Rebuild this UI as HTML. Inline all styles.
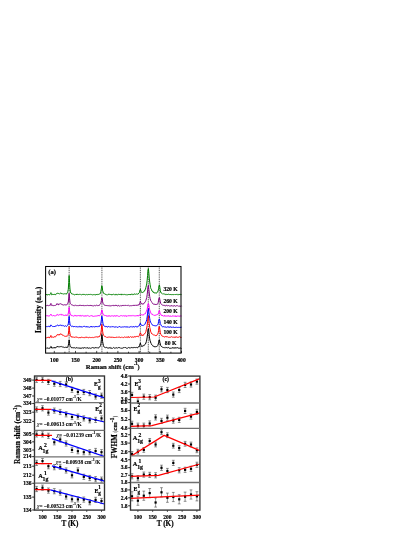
<!DOCTYPE html><html><head><meta charset="utf-8"><style>html,body{margin:0;padding:0;background:#fff}svg{display:block;will-change:transform}.ns{stroke:none}text{font-family:"Liberation Serif",serif;font-weight:bold;fill:#000;stroke:#000;stroke-width:0.18px}</style></head><body>
<svg width="415" height="537" viewBox="0 0 415 537">
<rect width="415" height="537" fill="#fff"/>
<line x1="69.14" y1="266.5" x2="69.14" y2="353.1" stroke="#000" stroke-width="0.7" stroke-dasharray="1,0.8"/>
<line x1="101.92" y1="266.5" x2="101.92" y2="353.1" stroke="#000" stroke-width="0.7" stroke-dasharray="1,0.8"/>
<line x1="140.37" y1="266.5" x2="140.37" y2="353.1" stroke="#000" stroke-width="0.7" stroke-dasharray="1,0.8"/>
<line x1="148.30" y1="266.5" x2="148.30" y2="353.1" stroke="#000" stroke-width="0.7" stroke-dasharray="1,0.8"/>
<line x1="159.28" y1="266.5" x2="159.28" y2="353.1" stroke="#000" stroke-width="0.7" stroke-dasharray="1,0.8"/>
<path d="M45.82,348.15 L46.24,348.30 L46.67,347.85 L47.09,348.37 L47.52,347.95 L47.94,348.11 L48.36,348.38 L48.79,347.98 L49.21,348.40 L49.64,348.03 L50.06,348.20 L50.48,347.40 L50.91,346.33 L51.33,346.72 L51.76,348.12 L52.18,348.17 L52.60,347.80 L53.03,347.49 L53.45,347.80 L53.88,347.93 L54.30,347.37 L54.72,348.16 L55.15,347.36 L55.57,347.76 L56.00,347.68 L56.42,347.35 L56.84,346.79 L57.27,346.12 L57.69,346.77 L58.12,346.66 L58.54,346.81 L58.96,347.07 L59.39,346.77 L59.81,346.97 L60.24,346.75 L60.66,346.53 L61.08,346.19 L61.51,346.63 L61.93,346.98 L62.36,346.93 L62.78,347.18 L63.20,347.40 L63.63,347.01 L64.05,347.15 L64.48,347.61 L64.90,347.35 L65.32,347.43 L65.75,347.13 L66.17,347.25 L66.60,347.60 L67.02,346.87 L67.44,347.43 L67.87,346.69 L68.29,345.30 L68.72,343.21 L69.14,339.95 L69.56,343.35 L69.99,345.44 L70.41,346.48 L70.84,347.15 L71.26,347.14 L71.68,347.80 L72.11,347.55 L72.53,347.71 L72.96,347.76 L73.38,347.91 L73.80,347.58 L74.23,347.51 L74.65,347.94 L75.08,347.78 L75.50,348.34 L75.92,347.77 L76.35,347.82 L76.77,347.51 L77.20,347.67 L77.62,348.16 L78.04,348.07 L78.47,347.82 L78.89,348.40 L79.32,348.01 L79.74,348.28 L80.16,348.32 L80.59,348.38 L81.01,347.74 L81.44,348.31 L81.86,348.21 L82.28,348.08 L82.71,347.65 L83.13,348.36 L83.56,348.03 L83.98,347.94 L84.40,347.64 L84.83,347.69 L85.25,347.65 L85.68,348.18 L86.10,348.05 L86.52,348.10 L86.95,347.63 L87.37,347.56 L87.80,348.29 L88.22,348.26 L88.64,348.21 L89.07,348.21 L89.49,347.98 L89.92,347.88 L90.34,348.17 L90.76,348.40 L91.19,348.02 L91.61,348.06 L92.04,347.88 L92.46,347.53 L92.88,347.76 L93.31,347.91 L93.73,347.81 L94.16,347.74 L94.58,348.29 L95.00,347.51 L95.43,347.60 L95.85,347.49 L96.28,347.54 L96.70,347.87 L97.12,347.82 L97.55,348.03 L97.97,347.47 L98.40,347.89 L98.82,347.74 L99.24,347.39 L99.67,347.10 L100.09,346.39 L100.52,345.65 L100.94,343.73 L101.36,339.59 L101.79,334.36 L102.21,335.96 L102.64,341.63 L103.06,343.90 L103.48,345.62 L103.91,346.82 L104.33,347.17 L104.76,347.36 L105.18,347.53 L105.60,347.87 L106.03,347.31 L106.45,347.25 L106.88,347.77 L107.30,347.79 L107.72,348.18 L108.15,348.19 L108.57,348.00 L109.00,348.08 L109.42,347.59 L109.84,348.20 L110.27,348.34 L110.69,347.51 L111.12,347.90 L111.54,348.25 L111.96,347.90 L112.39,348.36 L112.81,347.92 L113.24,347.52 L113.66,347.62 L114.08,347.77 L114.51,348.17 L114.93,348.07 L115.36,348.26 L115.78,347.71 L116.20,347.93 L116.63,347.71 L117.05,348.11 L117.48,348.21 L117.90,347.68 L118.32,347.52 L118.75,347.64 L119.17,347.68 L119.60,347.67 L120.02,347.74 L120.44,348.20 L120.87,347.94 L121.29,348.08 L121.72,348.37 L122.14,348.37 L122.56,348.14 L122.99,348.16 L123.41,347.77 L123.84,347.53 L124.26,347.98 L124.68,347.54 L125.11,347.49 L125.53,347.52 L125.96,348.04 L126.38,348.17 L126.80,348.16 L127.23,348.18 L127.65,348.17 L128.08,347.79 L128.50,347.53 L128.92,347.58 L129.35,347.90 L129.77,347.73 L130.20,347.59 L130.62,348.23 L131.04,347.70 L131.47,347.46 L131.89,347.57 L132.32,347.58 L132.74,347.81 L133.16,348.07 L133.59,347.50 L134.01,347.89 L134.44,347.45 L134.86,347.27 L135.28,347.76 L135.71,347.72 L136.13,347.19 L136.56,347.35 L136.98,347.79 L137.40,347.76 L137.83,347.64 L138.25,346.83 L138.68,346.71 L139.10,346.95 L139.52,345.64 L139.95,344.10 L140.37,343.09 L140.80,344.51 L141.22,345.56 L141.64,346.46 L142.07,346.73 L142.49,345.87 L142.92,346.06 L143.34,345.99 L143.76,345.37 L144.19,345.49 L144.61,344.67 L145.04,344.16 L145.46,344.00 L145.88,343.03 L146.31,341.72 L146.73,339.98 L147.16,337.09 L147.58,333.66 L148.00,329.36 L148.43,328.58 L148.85,331.33 L149.28,335.95 L149.70,338.87 L150.12,340.81 L150.55,341.97 L150.97,343.46 L151.40,343.81 L151.82,344.80 L152.24,345.25 L152.67,345.63 L153.09,346.38 L153.52,346.24 L153.94,346.65 L154.36,346.95 L154.79,346.34 L155.21,346.97 L155.64,346.73 L156.06,346.48 L156.48,346.55 L156.91,346.59 L157.33,346.09 L157.76,345.48 L158.18,344.19 L158.60,342.87 L159.03,339.94 L159.45,339.89 L159.88,342.31 L160.30,344.06 L160.72,345.59 L161.15,346.27 L161.57,346.54 L162.00,346.68 L162.42,347.29 L162.84,347.28 L163.27,347.47 L163.69,347.54 L164.12,347.44 L164.54,347.71 L164.96,347.67 L165.39,347.76 L165.81,347.37 L166.24,347.61 L166.66,347.47 L167.08,347.43 L167.51,348.06 L167.93,347.81 L168.36,347.48 L168.78,347.58 L169.20,348.23 L169.63,348.25 L170.05,347.97 L170.48,348.31 L170.90,348.17 L171.32,348.33 L171.75,347.80 L172.17,347.70 L172.60,347.61 L173.02,348.28 L173.44,347.78 L173.87,347.83 L174.29,348.30 L174.72,347.64 L175.14,347.57 L175.56,348.25 L175.99,347.59 L176.41,348.09 L176.84,348.02 L177.26,347.57 L177.68,347.71 L178.11,348.32 L178.53,348.08 L178.96,348.01 L179.38,348.17 L179.80,348.30 L180.23,348.19 L180.65,347.83 L181.08,348.47 L181.50,347.99" fill="none" stroke="#000000" stroke-width="1.0" stroke-linejoin="round"/>
<path d="M45.82,337.54 L46.24,337.92 L46.67,337.63 L47.09,337.37 L47.52,337.47 L47.94,337.87 L48.36,337.03 L48.79,337.21 L49.21,337.03 L49.64,337.80 L50.06,337.49 L50.48,336.90 L50.91,335.45 L51.33,336.64 L51.76,337.52 L52.18,337.36 L52.60,336.88 L53.03,336.90 L53.45,337.33 L53.88,337.33 L54.30,336.53 L54.72,336.72 L55.15,336.45 L55.57,336.79 L56.00,336.49 L56.42,335.45 L56.84,335.18 L57.27,335.16 L57.69,334.34 L58.12,334.75 L58.54,334.69 L58.96,335.26 L59.39,334.35 L59.81,334.76 L60.24,333.79 L60.66,334.05 L61.08,334.25 L61.51,334.31 L61.93,334.27 L62.36,335.13 L62.78,335.47 L63.20,335.29 L63.63,335.72 L64.05,336.00 L64.48,336.12 L64.90,336.37 L65.32,336.36 L65.75,336.37 L66.17,336.44 L66.60,336.05 L67.02,336.39 L67.44,335.95 L67.87,335.64 L68.29,334.03 L68.72,330.74 L69.14,326.49 L69.56,330.83 L69.99,333.86 L70.41,335.58 L70.84,336.61 L71.26,336.72 L71.68,336.52 L72.11,337.39 L72.53,336.84 L72.96,337.25 L73.38,337.24 L73.80,336.96 L74.23,337.38 L74.65,337.30 L75.08,337.15 L75.50,336.90 L75.92,337.48 L76.35,337.05 L76.77,337.17 L77.20,337.23 L77.62,337.45 L78.04,337.50 L78.47,337.77 L78.89,337.70 L79.32,337.75 L79.74,337.15 L80.16,337.59 L80.59,337.67 L81.01,337.74 L81.44,337.06 L81.86,337.04 L82.28,337.22 L82.71,337.56 L83.13,337.60 L83.56,337.55 L83.98,337.40 L84.40,337.67 L84.83,337.41 L85.25,337.57 L85.68,336.94 L86.10,336.93 L86.52,337.31 L86.95,337.58 L87.37,336.93 L87.80,337.52 L88.22,337.48 L88.64,337.79 L89.07,337.45 L89.49,337.36 L89.92,337.33 L90.34,337.60 L90.76,337.32 L91.19,337.77 L91.61,337.53 L92.04,337.68 L92.46,337.39 L92.88,337.71 L93.31,337.72 L93.73,337.45 L94.16,337.51 L94.58,337.18 L95.00,337.21 L95.43,336.99 L95.85,337.06 L96.28,336.98 L96.70,336.80 L97.12,337.20 L97.55,337.20 L97.97,336.54 L98.40,337.20 L98.82,336.55 L99.24,336.43 L99.67,336.67 L100.09,335.46 L100.52,334.52 L100.94,332.99 L101.36,329.30 L101.79,324.50 L102.21,326.75 L102.64,331.21 L103.06,333.95 L103.48,334.99 L103.91,335.71 L104.33,336.09 L104.76,336.55 L105.18,336.44 L105.60,336.74 L106.03,336.81 L106.45,337.28 L106.88,337.51 L107.30,337.45 L107.72,337.27 L108.15,337.52 L108.57,336.88 L109.00,337.14 L109.42,337.09 L109.84,337.10 L110.27,337.06 L110.69,337.24 L111.12,337.68 L111.54,336.97 L111.96,337.02 L112.39,337.24 L112.81,337.21 L113.24,337.10 L113.66,337.64 L114.08,337.04 L114.51,337.47 L114.93,337.63 L115.36,337.46 L115.78,337.04 L116.20,337.51 L116.63,337.03 L117.05,336.82 L117.48,337.25 L117.90,337.35 L118.32,337.26 L118.75,337.07 L119.17,337.00 L119.60,337.13 L120.02,337.10 L120.44,337.61 L120.87,337.54 L121.29,337.44 L121.72,337.00 L122.14,337.39 L122.56,337.15 L122.99,337.65 L123.41,337.60 L123.84,337.41 L124.26,337.04 L124.68,337.02 L125.11,337.03 L125.53,337.37 L125.96,337.16 L126.38,337.20 L126.80,337.19 L127.23,337.50 L127.65,336.79 L128.08,337.41 L128.50,336.70 L128.92,336.73 L129.35,337.55 L129.77,337.14 L130.20,336.81 L130.62,336.66 L131.04,337.12 L131.47,337.27 L131.89,337.31 L132.32,336.63 L132.74,337.27 L133.16,336.92 L133.59,337.30 L134.01,336.93 L134.44,336.52 L134.86,337.23 L135.28,336.58 L135.71,336.82 L136.13,336.44 L136.56,336.56 L136.98,336.92 L137.40,336.25 L137.83,336.52 L138.25,336.79 L138.68,336.60 L139.10,335.79 L139.52,335.13 L139.95,333.86 L140.37,332.69 L140.80,333.64 L141.22,334.88 L141.64,334.92 L142.07,335.83 L142.49,335.13 L142.92,334.93 L143.34,335.37 L143.76,334.37 L144.19,334.19 L144.61,333.55 L145.04,333.49 L145.46,332.63 L145.88,331.58 L146.31,329.63 L146.73,328.04 L147.16,325.40 L147.58,321.24 L148.00,316.80 L148.43,315.86 L148.85,319.61 L149.28,323.47 L149.70,327.28 L150.12,328.96 L150.55,331.16 L150.97,332.31 L151.40,332.96 L151.82,333.92 L152.24,334.28 L152.67,334.16 L153.09,334.54 L153.52,334.86 L153.94,335.22 L154.36,335.11 L154.79,335.19 L155.21,335.60 L155.64,335.46 L156.06,336.02 L156.48,335.28 L156.91,335.29 L157.33,334.59 L157.76,333.92 L158.18,332.82 L158.60,330.51 L159.03,326.44 L159.45,326.72 L159.88,329.58 L160.30,332.54 L160.72,334.26 L161.15,334.81 L161.57,335.17 L162.00,336.17 L162.42,336.06 L162.84,336.55 L163.27,336.45 L163.69,336.69 L164.12,336.97 L164.54,337.03 L164.96,337.04 L165.39,336.45 L165.81,336.86 L166.24,337.13 L166.66,336.54 L167.08,336.48 L167.51,336.99 L167.93,337.29 L168.36,337.26 L168.78,337.36 L169.20,337.15 L169.63,337.38 L170.05,337.26 L170.48,337.25 L170.90,336.98 L171.32,336.70 L171.75,336.83 L172.17,337.14 L172.60,337.15 L173.02,337.05 L173.44,337.19 L173.87,337.23 L174.29,337.48 L174.72,337.29 L175.14,336.67 L175.56,337.44 L175.99,337.10 L176.41,336.99 L176.84,336.78 L177.26,337.37 L177.68,337.32 L178.11,337.34 L178.53,337.21 L178.96,337.17 L179.38,336.71 L179.80,336.81 L180.23,336.79 L180.65,337.55 L181.08,337.55 L181.50,336.94" fill="none" stroke="#ff0000" stroke-width="1.0" stroke-linejoin="round"/>
<path d="M45.82,326.23 L46.24,326.61 L46.67,326.51 L47.09,327.04 L47.52,326.69 L47.94,326.21 L48.36,326.30 L48.79,326.28 L49.21,326.17 L49.64,326.82 L50.06,326.79 L50.48,325.96 L50.91,324.87 L51.33,325.48 L51.76,326.02 L52.18,326.35 L52.60,326.41 L53.03,326.29 L53.45,326.54 L53.88,326.43 L54.30,326.85 L54.72,326.14 L55.15,326.57 L55.57,325.85 L56.00,325.88 L56.42,325.83 L56.84,325.60 L57.27,325.28 L57.69,325.02 L58.12,325.22 L58.54,325.94 L58.96,326.01 L59.39,325.46 L59.81,325.17 L60.24,325.13 L60.66,325.18 L61.08,324.93 L61.51,325.68 L61.93,325.66 L62.36,325.72 L62.78,325.39 L63.20,325.76 L63.63,325.60 L64.05,326.02 L64.48,326.29 L64.90,326.31 L65.32,325.70 L65.75,325.93 L66.17,326.27 L66.60,326.46 L67.02,325.89 L67.44,325.45 L67.87,325.09 L68.29,323.87 L68.72,320.21 L69.14,316.28 L69.56,320.65 L69.99,324.15 L70.41,325.27 L70.84,325.83 L71.26,325.93 L71.68,326.55 L72.11,326.13 L72.53,326.26 L72.96,326.53 L73.38,326.84 L73.80,326.19 L74.23,326.80 L74.65,326.36 L75.08,326.91 L75.50,326.93 L75.92,326.46 L76.35,326.89 L76.77,326.30 L77.20,326.72 L77.62,327.01 L78.04,326.98 L78.47,326.81 L78.89,326.59 L79.32,326.34 L79.74,327.07 L80.16,326.85 L80.59,327.02 L81.01,326.33 L81.44,327.09 L81.86,327.17 L82.28,327.17 L82.71,326.87 L83.13,326.42 L83.56,326.43 L83.98,326.57 L84.40,326.34 L84.83,326.40 L85.25,326.94 L85.68,327.07 L86.10,326.40 L86.52,326.57 L86.95,327.22 L87.37,326.65 L87.80,326.91 L88.22,326.91 L88.64,326.95 L89.07,327.10 L89.49,327.25 L89.92,327.00 L90.34,326.93 L90.76,326.39 L91.19,327.14 L91.61,326.38 L92.04,327.06 L92.46,326.92 L92.88,326.50 L93.31,326.49 L93.73,326.84 L94.16,327.18 L94.58,326.79 L95.00,326.87 L95.43,326.37 L95.85,327.00 L96.28,326.83 L96.70,326.33 L97.12,327.07 L97.55,326.69 L97.97,326.27 L98.40,326.23 L98.82,326.78 L99.24,326.61 L99.67,326.33 L100.09,325.13 L100.52,324.94 L100.94,322.96 L101.36,319.67 L101.79,316.03 L102.21,317.54 L102.64,321.14 L103.06,323.84 L103.48,325.33 L103.91,325.53 L104.33,326.24 L104.76,326.50 L105.18,326.89 L105.60,326.31 L106.03,326.24 L106.45,326.55 L106.88,326.32 L107.30,327.18 L107.72,327.01 L108.15,326.82 L108.57,326.40 L109.00,326.42 L109.42,326.94 L109.84,327.08 L110.27,326.93 L110.69,326.88 L111.12,326.49 L111.54,327.17 L111.96,326.62 L112.39,326.68 L112.81,326.61 L113.24,326.66 L113.66,326.81 L114.08,327.07 L114.51,327.08 L114.93,327.05 L115.36,326.67 L115.78,327.31 L116.20,327.20 L116.63,326.71 L117.05,327.16 L117.48,327.33 L117.90,327.36 L118.32,326.89 L118.75,327.10 L119.17,326.51 L119.60,326.60 L120.02,326.51 L120.44,327.16 L120.87,327.32 L121.29,327.31 L121.72,326.95 L122.14,326.76 L122.56,327.00 L122.99,327.19 L123.41,327.03 L123.84,326.84 L124.26,326.79 L124.68,326.73 L125.11,326.64 L125.53,326.80 L125.96,327.29 L126.38,326.64 L126.80,327.13 L127.23,326.88 L127.65,327.05 L128.08,326.72 L128.50,327.20 L128.92,327.15 L129.35,327.15 L129.77,327.23 L130.20,326.56 L130.62,326.83 L131.04,327.05 L131.47,326.98 L131.89,326.44 L132.32,326.86 L132.74,327.10 L133.16,326.57 L133.59,326.70 L134.01,326.38 L134.44,327.16 L134.86,326.80 L135.28,326.47 L135.71,326.42 L136.13,326.32 L136.56,327.07 L136.98,326.80 L137.40,326.89 L137.83,326.75 L138.25,325.93 L138.68,326.10 L139.10,325.49 L139.52,325.42 L139.95,323.81 L140.37,323.10 L140.80,324.21 L141.22,324.75 L141.64,325.01 L142.07,325.89 L142.49,325.43 L142.92,325.31 L143.34,325.49 L143.76,325.12 L144.19,325.01 L144.61,324.55 L145.04,323.98 L145.46,322.99 L145.88,322.05 L146.31,321.25 L146.73,319.73 L147.16,316.99 L147.58,313.14 L148.00,309.63 L148.43,308.54 L148.85,311.91 L149.28,315.30 L149.70,318.38 L150.12,320.78 L150.55,322.12 L150.97,322.86 L151.40,323.48 L151.82,323.98 L152.24,324.93 L152.67,325.22 L153.09,325.02 L153.52,325.50 L153.94,325.79 L154.36,325.90 L154.79,325.42 L155.21,326.06 L155.64,325.85 L156.06,326.01 L156.48,325.87 L156.91,325.29 L157.33,324.84 L157.76,324.81 L158.18,323.85 L158.60,321.39 L159.03,319.29 L159.45,319.13 L159.88,320.82 L160.30,323.50 L160.72,324.47 L161.15,325.59 L161.57,325.61 L162.00,326.28 L162.42,326.75 L162.84,327.02 L163.27,326.64 L163.69,326.64 L164.12,326.46 L164.54,327.25 L164.96,326.82 L165.39,327.08 L165.81,326.99 L166.24,327.34 L166.66,327.24 L167.08,327.04 L167.51,326.70 L167.93,327.45 L168.36,327.12 L168.78,326.85 L169.20,326.72 L169.63,327.43 L170.05,327.50 L170.48,326.78 L170.90,326.76 L171.32,327.21 L171.75,327.61 L172.17,326.83 L172.60,327.32 L173.02,326.86 L173.44,327.13 L173.87,326.95 L174.29,327.56 L174.72,327.00 L175.14,327.51 L175.56,327.35 L175.99,326.96 L176.41,326.98 L176.84,327.57 L177.26,327.54 L177.68,327.39 L178.11,327.28 L178.53,327.41 L178.96,327.65 L179.38,327.54 L179.80,327.12 L180.23,326.97 L180.65,327.74 L181.08,327.28 L181.50,327.11" fill="none" stroke="#0000ff" stroke-width="1.0" stroke-linejoin="round"/>
<path d="M45.82,316.21 L46.24,315.49 L46.67,316.14 L47.09,315.70 L47.52,315.75 L47.94,315.68 L48.36,315.97 L48.79,315.87 L49.21,315.72 L49.64,315.85 L50.06,315.49 L50.48,314.90 L50.91,314.14 L51.33,315.27 L51.76,315.51 L52.18,315.77 L52.60,315.99 L53.03,315.51 L53.45,315.47 L53.88,315.74 L54.30,315.97 L54.72,315.68 L55.15,315.96 L55.57,315.85 L56.00,315.38 L56.42,315.35 L56.84,314.67 L57.27,314.42 L57.69,314.94 L58.12,314.68 L58.54,315.39 L58.96,314.85 L59.39,314.68 L59.81,314.70 L60.24,314.89 L60.66,314.40 L61.08,314.60 L61.51,314.29 L61.93,315.26 L62.36,314.79 L62.78,314.78 L63.20,315.08 L63.63,315.05 L64.05,315.64 L64.48,314.96 L64.90,315.42 L65.32,315.01 L65.75,315.04 L66.17,315.69 L66.60,315.07 L67.02,314.82 L67.44,315.36 L67.87,314.61 L68.29,313.13 L68.72,310.96 L69.14,307.27 L69.56,310.88 L69.99,313.12 L70.41,314.87 L70.84,315.07 L71.26,314.96 L71.68,315.76 L72.11,315.80 L72.53,315.65 L72.96,315.86 L73.38,316.15 L73.80,316.04 L74.23,316.08 L74.65,315.40 L75.08,315.64 L75.50,315.46 L75.92,316.12 L76.35,315.57 L76.77,316.18 L77.20,315.81 L77.62,315.72 L78.04,315.98 L78.47,315.52 L78.89,315.81 L79.32,315.79 L79.74,315.52 L80.16,316.22 L80.59,315.42 L81.01,315.75 L81.44,315.97 L81.86,315.61 L82.28,316.09 L82.71,315.44 L83.13,315.81 L83.56,316.01 L83.98,315.64 L84.40,315.94 L84.83,316.18 L85.25,315.67 L85.68,316.29 L86.10,315.60 L86.52,316.11 L86.95,315.76 L87.37,315.45 L87.80,315.81 L88.22,315.74 L88.64,316.06 L89.07,316.34 L89.49,316.31 L89.92,316.21 L90.34,315.79 L90.76,315.95 L91.19,315.88 L91.61,315.53 L92.04,316.22 L92.46,316.13 L92.88,315.75 L93.31,316.31 L93.73,316.33 L94.16,316.01 L94.58,316.22 L95.00,315.99 L95.43,316.11 L95.85,315.77 L96.28,315.76 L96.70,316.09 L97.12,315.69 L97.55,315.80 L97.97,316.08 L98.40,315.31 L98.82,315.87 L99.24,315.86 L99.67,315.76 L100.09,315.03 L100.52,314.37 L100.94,313.57 L101.36,312.12 L101.79,309.88 L102.21,310.93 L102.64,312.76 L103.06,314.20 L103.48,315.06 L103.91,315.14 L104.33,315.53 L104.76,315.21 L105.18,315.47 L105.60,315.97 L106.03,315.42 L106.45,316.22 L106.88,315.81 L107.30,315.94 L107.72,316.10 L108.15,316.28 L108.57,315.64 L109.00,316.34 L109.42,315.86 L109.84,315.52 L110.27,316.24 L110.69,316.19 L111.12,315.83 L111.54,315.92 L111.96,315.81 L112.39,315.65 L112.81,316.23 L113.24,316.11 L113.66,316.12 L114.08,316.35 L114.51,315.60 L114.93,315.69 L115.36,315.76 L115.78,316.40 L116.20,315.64 L116.63,315.73 L117.05,315.99 L117.48,315.74 L117.90,316.00 L118.32,316.20 L118.75,316.31 L119.17,316.20 L119.60,316.37 L120.02,316.11 L120.44,315.73 L120.87,315.78 L121.29,315.65 L121.72,315.77 L122.14,316.17 L122.56,315.91 L122.99,316.01 L123.41,315.70 L123.84,315.94 L124.26,316.17 L124.68,315.83 L125.11,315.53 L125.53,316.21 L125.96,315.61 L126.38,316.38 L126.80,316.16 L127.23,316.18 L127.65,315.72 L128.08,315.54 L128.50,315.72 L128.92,316.09 L129.35,315.59 L129.77,316.08 L130.20,316.16 L130.62,315.55 L131.04,315.80 L131.47,315.73 L131.89,315.75 L132.32,315.46 L132.74,315.91 L133.16,315.57 L133.59,315.69 L134.01,315.54 L134.44,315.90 L134.86,315.63 L135.28,315.75 L135.71,315.97 L136.13,316.04 L136.56,315.65 L136.98,316.11 L137.40,315.32 L137.83,315.96 L138.25,316.01 L138.68,315.84 L139.10,314.95 L139.52,315.18 L139.95,314.79 L140.37,314.35 L140.80,314.77 L141.22,314.65 L141.64,314.89 L142.07,314.86 L142.49,314.78 L142.92,315.30 L143.34,314.69 L143.76,314.72 L144.19,314.09 L144.61,313.80 L145.04,313.37 L145.46,313.64 L145.88,312.30 L146.31,311.42 L146.73,310.21 L147.16,309.26 L147.58,306.72 L148.00,304.06 L148.43,303.44 L148.85,304.99 L149.28,307.74 L149.70,309.89 L150.12,311.08 L150.55,312.21 L150.97,313.21 L151.40,313.91 L151.82,314.32 L152.24,314.04 L152.67,314.78 L153.09,314.88 L153.52,314.94 L153.94,315.42 L154.36,315.31 L154.79,315.35 L155.21,315.01 L155.64,315.34 L156.06,315.37 L156.48,314.74 L156.91,315.05 L157.33,314.53 L157.76,314.36 L158.18,314.18 L158.60,312.58 L159.03,310.93 L159.45,310.41 L159.88,312.38 L160.30,313.49 L160.72,314.48 L161.15,315.25 L161.57,314.96 L162.00,315.84 L162.42,315.31 L162.84,315.98 L163.27,316.20 L163.69,316.07 L164.12,315.60 L164.54,315.44 L164.96,316.35 L165.39,315.93 L165.81,315.95 L166.24,315.69 L166.66,316.26 L167.08,315.99 L167.51,316.14 L167.93,315.71 L168.36,316.24 L168.78,315.63 L169.20,316.23 L169.63,316.30 L170.05,315.87 L170.48,316.06 L170.90,316.42 L171.32,315.95 L171.75,316.46 L172.17,315.82 L172.60,315.91 L173.02,315.83 L173.44,315.98 L173.87,316.23 L174.29,316.19 L174.72,316.20 L175.14,315.76 L175.56,316.49 L175.99,315.77 L176.41,316.55 L176.84,316.39 L177.26,316.34 L177.68,315.77 L178.11,316.14 L178.53,316.25 L178.96,315.80 L179.38,316.38 L179.80,316.18 L180.23,316.12 L180.65,315.92 L181.08,315.93 L181.50,316.03" fill="none" stroke="#ff00ff" stroke-width="1.0" stroke-linejoin="round"/>
<path d="M45.82,305.62 L46.24,305.64 L46.67,305.80 L47.09,305.18 L47.52,305.34 L47.94,305.27 L48.36,305.79 L48.79,305.55 L49.21,305.24 L49.64,305.41 L50.06,305.66 L50.48,304.58 L50.91,303.43 L51.33,304.76 L51.76,305.58 L52.18,305.62 L52.60,305.25 L53.03,305.10 L53.45,305.69 L53.88,305.66 L54.30,305.54 L54.72,305.43 L55.15,305.19 L55.57,305.40 L56.00,305.04 L56.42,304.81 L56.84,303.71 L57.27,303.72 L57.69,304.37 L58.12,303.85 L58.54,304.82 L58.96,304.59 L59.39,303.91 L59.81,303.84 L60.24,303.68 L60.66,303.85 L61.08,304.15 L61.51,303.97 L61.93,304.69 L62.36,304.79 L62.78,304.76 L63.20,305.15 L63.63,304.88 L64.05,304.58 L64.48,304.70 L64.90,304.91 L65.32,304.81 L65.75,304.95 L66.17,305.21 L66.60,304.70 L67.02,304.70 L67.44,304.05 L67.87,303.18 L68.29,301.97 L68.72,297.89 L69.14,293.29 L69.56,298.06 L69.99,302.22 L70.41,303.46 L70.84,304.07 L71.26,304.56 L71.68,304.85 L72.11,304.86 L72.53,305.11 L72.96,305.21 L73.38,305.43 L73.80,305.59 L74.23,305.33 L74.65,305.83 L75.08,305.56 L75.50,305.25 L75.92,305.32 L76.35,305.41 L76.77,305.76 L77.20,305.61 L77.62,305.59 L78.04,305.44 L78.47,305.64 L78.89,305.41 L79.32,305.18 L79.74,305.86 L80.16,305.44 L80.59,305.33 L81.01,305.68 L81.44,305.59 L81.86,305.16 L82.28,306.00 L82.71,305.55 L83.13,305.90 L83.56,305.34 L83.98,305.20 L84.40,305.58 L84.83,305.96 L85.25,305.53 L85.68,305.57 L86.10,305.41 L86.52,305.59 L86.95,305.48 L87.37,305.31 L87.80,305.59 L88.22,305.69 L88.64,305.21 L89.07,305.87 L89.49,305.44 L89.92,305.71 L90.34,305.37 L90.76,305.95 L91.19,305.17 L91.61,305.74 L92.04,306.00 L92.46,305.80 L92.88,305.69 L93.31,306.03 L93.73,305.66 L94.16,305.66 L94.58,305.40 L95.00,305.71 L95.43,305.77 L95.85,305.80 L96.28,305.32 L96.70,305.12 L97.12,305.47 L97.55,305.71 L97.97,305.15 L98.40,305.46 L98.82,305.53 L99.24,305.49 L99.67,304.71 L100.09,304.36 L100.52,303.93 L100.94,302.93 L101.36,300.50 L101.79,297.71 L102.21,298.12 L102.64,301.82 L103.06,303.34 L103.48,304.05 L103.91,304.51 L104.33,305.09 L104.76,305.41 L105.18,305.29 L105.60,305.74 L106.03,305.16 L106.45,305.63 L106.88,305.21 L107.30,305.76 L107.72,305.68 L108.15,305.81 L108.57,305.67 L109.00,305.90 L109.42,306.07 L109.84,305.43 L110.27,305.83 L110.69,305.87 L111.12,305.83 L111.54,305.67 L111.96,305.72 L112.39,305.54 L112.81,305.52 L113.24,305.79 L113.66,305.28 L114.08,305.35 L114.51,306.07 L114.93,305.38 L115.36,305.31 L115.78,305.42 L116.20,306.00 L116.63,305.38 L117.05,305.56 L117.48,306.12 L117.90,306.12 L118.32,305.27 L118.75,305.54 L119.17,305.91 L119.60,306.04 L120.02,306.00 L120.44,305.92 L120.87,305.43 L121.29,305.82 L121.72,305.99 L122.14,305.32 L122.56,305.42 L122.99,305.98 L123.41,305.32 L123.84,305.58 L124.26,305.42 L124.68,305.52 L125.11,305.31 L125.53,305.41 L125.96,305.36 L126.38,305.93 L126.80,305.48 L127.23,305.62 L127.65,305.43 L128.08,305.70 L128.50,305.29 L128.92,305.58 L129.35,305.84 L129.77,305.86 L130.20,305.94 L130.62,305.61 L131.04,305.99 L131.47,305.62 L131.89,305.90 L132.32,305.57 L132.74,305.55 L133.16,305.50 L133.59,305.20 L134.01,305.95 L134.44,305.18 L134.86,305.49 L135.28,305.38 L135.71,305.26 L136.13,305.06 L136.56,305.44 L136.98,305.35 L137.40,304.80 L137.83,305.51 L138.25,304.89 L138.68,304.71 L139.10,304.95 L139.52,303.85 L139.95,302.62 L140.37,301.30 L140.80,302.77 L141.22,303.18 L141.64,304.01 L142.07,304.15 L142.49,303.74 L142.92,304.40 L143.34,303.59 L143.76,303.41 L144.19,303.33 L144.61,302.42 L145.04,302.30 L145.46,301.47 L145.88,300.46 L146.31,298.93 L146.73,297.61 L147.16,294.76 L147.58,290.96 L148.00,286.57 L148.43,285.27 L148.85,289.29 L149.28,293.03 L149.70,296.50 L150.12,298.52 L150.55,300.21 L150.97,301.09 L151.40,301.49 L151.82,302.40 L152.24,302.77 L152.67,303.57 L153.09,303.89 L153.52,304.15 L153.94,304.08 L154.36,304.18 L154.79,304.16 L155.21,304.90 L155.64,304.32 L156.06,304.16 L156.48,304.40 L156.91,304.68 L157.33,304.15 L157.76,303.86 L158.18,302.66 L158.60,300.14 L159.03,298.00 L159.45,297.64 L159.88,299.87 L160.30,301.88 L160.72,303.40 L161.15,304.11 L161.57,304.53 L162.00,304.74 L162.42,305.01 L162.84,305.07 L163.27,305.59 L163.69,305.26 L164.12,305.51 L164.54,305.28 L164.96,305.92 L165.39,305.88 L165.81,306.04 L166.24,305.40 L166.66,305.30 L167.08,305.55 L167.51,305.83 L167.93,305.43 L168.36,305.48 L168.78,305.70 L169.20,305.98 L169.63,305.95 L170.05,305.86 L170.48,305.96 L170.90,305.87 L171.32,305.69 L171.75,305.43 L172.17,306.23 L172.60,305.78 L173.02,306.26 L173.44,306.19 L173.87,305.58 L174.29,305.79 L174.72,305.49 L175.14,305.92 L175.56,306.31 L175.99,305.98 L176.41,305.80 L176.84,305.50 L177.26,305.46 L177.68,305.92 L178.11,305.98 L178.53,306.27 L178.96,305.78 L179.38,306.18 L179.80,306.23 L180.23,306.36 L180.65,306.37 L181.08,305.77 L181.50,306.28" fill="none" stroke="#800080" stroke-width="1.0" stroke-linejoin="round"/>
<path d="M45.82,294.26 L46.24,295.05 L46.67,294.35 L47.09,295.01 L47.52,295.11 L47.94,294.48 L48.36,294.91 L48.79,294.46 L49.21,294.95 L49.64,295.07 L50.06,294.26 L50.48,293.53 L50.91,292.63 L51.33,293.50 L51.76,294.85 L52.18,294.50 L52.60,294.42 L53.03,294.63 L53.45,294.18 L53.88,294.77 L54.30,294.10 L54.72,294.28 L55.15,294.86 L55.57,294.76 L56.00,293.98 L56.42,293.49 L56.84,293.78 L57.27,293.37 L57.69,293.08 L58.12,293.85 L58.54,293.44 L58.96,293.81 L59.39,294.05 L59.81,293.54 L60.24,293.14 L60.66,293.16 L61.08,293.03 L61.51,293.72 L61.93,293.36 L62.36,293.92 L62.78,293.78 L63.20,293.85 L63.63,294.07 L64.05,294.12 L64.48,293.77 L64.90,293.62 L65.32,293.74 L65.75,293.89 L66.17,294.03 L66.60,294.06 L67.02,292.93 L67.44,292.60 L67.87,291.34 L68.29,289.21 L68.72,282.78 L69.14,275.51 L69.56,282.60 L69.99,289.01 L70.41,291.88 L70.84,292.95 L71.26,293.14 L71.68,293.95 L72.11,293.89 L72.53,294.11 L72.96,293.94 L73.38,294.09 L73.80,294.62 L74.23,294.91 L74.65,294.71 L75.08,294.59 L75.50,294.46 L75.92,294.27 L76.35,294.22 L76.77,294.99 L77.20,294.29 L77.62,294.32 L78.04,294.27 L78.47,294.55 L78.89,294.82 L79.32,294.30 L79.74,294.35 L80.16,294.46 L80.59,294.26 L81.01,294.77 L81.44,295.01 L81.86,294.59 L82.28,294.37 L82.71,294.91 L83.13,294.41 L83.56,294.25 L83.98,294.88 L84.40,294.55 L84.83,294.48 L85.25,294.67 L85.68,294.91 L86.10,294.86 L86.52,294.42 L86.95,294.38 L87.37,294.68 L87.80,295.01 L88.22,294.36 L88.64,294.39 L89.07,294.88 L89.49,294.56 L89.92,294.28 L90.34,294.28 L90.76,294.61 L91.19,294.65 L91.61,294.54 L92.04,294.90 L92.46,294.89 L92.88,294.90 L93.31,294.42 L93.73,294.72 L94.16,294.53 L94.58,294.67 L95.00,294.56 L95.43,294.88 L95.85,294.96 L96.28,294.08 L96.70,294.62 L97.12,294.83 L97.55,294.32 L97.97,294.13 L98.40,294.64 L98.82,294.15 L99.24,294.24 L99.67,293.87 L100.09,293.96 L100.52,293.31 L100.94,291.18 L101.36,288.73 L101.79,285.69 L102.21,286.79 L102.64,290.50 L103.06,291.99 L103.48,293.26 L103.91,293.29 L104.33,293.73 L104.76,293.86 L105.18,293.85 L105.60,294.57 L106.03,294.82 L106.45,294.72 L106.88,294.77 L107.30,294.88 L107.72,294.93 L108.15,294.49 L108.57,294.22 L109.00,294.60 L109.42,294.16 L109.84,294.20 L110.27,294.97 L110.69,294.50 L111.12,294.68 L111.54,294.93 L111.96,294.18 L112.39,294.81 L112.81,294.54 L113.24,294.47 L113.66,294.19 L114.08,294.45 L114.51,294.70 L114.93,294.65 L115.36,294.90 L115.78,294.18 L116.20,294.16 L116.63,294.85 L117.05,295.01 L117.48,294.81 L117.90,294.73 L118.32,294.23 L118.75,294.23 L119.17,294.28 L119.60,294.99 L120.02,294.33 L120.44,294.39 L120.87,294.45 L121.29,294.14 L121.72,294.97 L122.14,294.89 L122.56,294.34 L122.99,294.17 L123.41,294.40 L123.84,294.73 L124.26,294.47 L124.68,294.31 L125.11,294.89 L125.53,294.69 L125.96,294.75 L126.38,294.86 L126.80,294.53 L127.23,294.81 L127.65,294.74 L128.08,294.81 L128.50,294.32 L128.92,294.91 L129.35,294.27 L129.77,294.73 L130.20,294.86 L130.62,294.05 L131.04,294.67 L131.47,294.01 L131.89,294.06 L132.32,294.02 L132.74,294.68 L133.16,294.38 L133.59,294.67 L134.01,293.90 L134.44,293.95 L134.86,294.11 L135.28,294.23 L135.71,294.29 L136.13,293.81 L136.56,294.06 L136.98,293.85 L137.40,294.20 L137.83,294.01 L138.25,294.00 L138.68,293.16 L139.10,292.89 L139.52,292.44 L139.95,290.17 L140.37,289.20 L140.80,290.37 L141.22,291.99 L141.64,292.47 L142.07,292.13 L142.49,292.55 L142.92,292.55 L143.34,292.01 L143.76,291.82 L144.19,290.85 L144.61,290.99 L145.04,289.48 L145.46,289.36 L145.88,287.35 L146.31,285.86 L146.73,283.91 L147.16,280.23 L147.58,275.45 L148.00,269.94 L148.43,268.62 L148.85,273.06 L149.28,277.97 L149.70,281.97 L150.12,284.77 L150.55,287.45 L150.97,288.68 L151.40,289.20 L151.82,290.77 L152.24,290.80 L152.67,291.69 L153.09,291.47 L153.52,292.65 L153.94,292.19 L154.36,292.80 L154.79,293.13 L155.21,293.35 L155.64,292.66 L156.06,292.93 L156.48,293.16 L156.91,292.76 L157.33,291.99 L157.76,291.97 L158.18,290.45 L158.60,288.68 L159.03,285.83 L159.45,284.93 L159.88,287.73 L160.30,290.66 L160.72,292.21 L161.15,293.04 L161.57,293.06 L162.00,293.48 L162.42,293.90 L162.84,294.12 L163.27,293.87 L163.69,293.87 L164.12,293.84 L164.54,294.11 L164.96,294.50 L165.39,294.66 L165.81,294.09 L166.24,294.41 L166.66,294.16 L167.08,294.78 L167.51,294.12 L167.93,294.56 L168.36,294.12 L168.78,294.12 L169.20,294.47 L169.63,294.91 L170.05,294.11 L170.48,294.51 L170.90,294.17 L171.32,294.72 L171.75,294.80 L172.17,294.23 L172.60,294.65 L173.02,294.84 L173.44,294.66 L173.87,294.47 L174.29,295.00 L174.72,294.55 L175.14,294.62 L175.56,294.56 L175.99,294.92 L176.41,294.39 L176.84,294.30 L177.26,294.26 L177.68,294.75 L178.11,294.40 L178.53,294.70 L178.96,294.38 L179.38,295.00 L179.80,294.27 L180.23,294.20 L180.65,294.62 L181.08,294.60 L181.50,294.59" fill="none" stroke="#008000" stroke-width="1.0" stroke-linejoin="round"/>
<rect x="45.6" y="266.5" width="135.4" height="86.60000000000002" fill="none" stroke="#000" stroke-width="1.05"/>
<line x1="54.30" y1="353.1" x2="54.30" y2="350.90000000000003" stroke="#000" stroke-width="0.7"/>
<text x="54.30" y="362.0" font-size="5.7" text-anchor="middle">100</text>
<line x1="75.50" y1="353.1" x2="75.50" y2="350.90000000000003" stroke="#000" stroke-width="0.7"/>
<text x="75.50" y="362.0" font-size="5.7" text-anchor="middle">150</text>
<line x1="96.70" y1="353.1" x2="96.70" y2="350.90000000000003" stroke="#000" stroke-width="0.7"/>
<text x="96.70" y="362.0" font-size="5.7" text-anchor="middle">200</text>
<line x1="117.90" y1="353.1" x2="117.90" y2="350.90000000000003" stroke="#000" stroke-width="0.7"/>
<text x="117.90" y="362.0" font-size="5.7" text-anchor="middle">250</text>
<line x1="139.10" y1="353.1" x2="139.10" y2="350.90000000000003" stroke="#000" stroke-width="0.7"/>
<text x="139.10" y="362.0" font-size="5.7" text-anchor="middle">300</text>
<line x1="160.30" y1="353.1" x2="160.30" y2="350.90000000000003" stroke="#000" stroke-width="0.7"/>
<text x="160.30" y="362.0" font-size="5.7" text-anchor="middle">350</text>
<line x1="181.50" y1="353.1" x2="181.50" y2="350.90000000000003" stroke="#000" stroke-width="0.7"/>
<text x="181.50" y="362.0" font-size="5.7" text-anchor="middle">400</text>
<line x1="64.90" y1="353.1" x2="64.90" y2="351.70000000000005" stroke="#000" stroke-width="0.7"/>
<line x1="86.10" y1="353.1" x2="86.10" y2="351.70000000000005" stroke="#000" stroke-width="0.7"/>
<line x1="107.30" y1="353.1" x2="107.30" y2="351.70000000000005" stroke="#000" stroke-width="0.7"/>
<line x1="128.50" y1="353.1" x2="128.50" y2="351.70000000000005" stroke="#000" stroke-width="0.7"/>
<line x1="149.70" y1="353.1" x2="149.70" y2="351.70000000000005" stroke="#000" stroke-width="0.7"/>
<line x1="170.90" y1="353.1" x2="170.90" y2="351.70000000000005" stroke="#000" stroke-width="0.7"/>
<text x="48.3" y="274" font-size="6.6">(a)</text>
<text x="170.6" y="291.1" font-size="5.7" text-anchor="middle">320 K</text>
<text x="170.6" y="302.7" font-size="5.7" text-anchor="middle">260 K</text>
<text x="170.6" y="312.8" font-size="5.7" text-anchor="middle">200 K</text>
<text x="170.6" y="323.7" font-size="5.7" text-anchor="middle">140 K</text>
<text x="170.6" y="333.5" font-size="5.7" text-anchor="middle">100 K</text>
<text x="170.6" y="344.7" font-size="5.7" text-anchor="middle">80 K</text>
<text x="85.8" y="368.7" font-size="6.6" textLength="48" lengthAdjust="spacingAndGlyphs">Raman shift (cm</text>
<text x="134" y="365.3" font-size="4.5">-1</text>
<text x="137.6" y="368.6" font-size="6.3">)</text>
<text transform="translate(40.6,309.8) rotate(-90)" font-size="7.4" text-anchor="middle">Intensity (a.u.)</text>
<clipPath id="cb0"><rect x="34.5" y="376.0" width="70.0" height="26.600000000000023"/></clipPath>
<g clip-path="url(#cb0)">
<path d="M36.60,377.20V382.40M35.20,377.20h2.8M35.20,382.40h2.8" stroke="#2a2a2a" stroke-width="0.5" fill="none"/>
<rect x="35.50" y="378.70" width="2.2" height="2.2" fill="#000"/>
<path d="M42.50,377.20V382.40M41.10,377.20h2.8M41.10,382.40h2.8" stroke="#2a2a2a" stroke-width="0.5" fill="none"/>
<rect x="41.40" y="378.70" width="2.2" height="2.2" fill="#000"/>
<path d="M48.40,379.30V384.50M47.00,379.30h2.8M47.00,384.50h2.8" stroke="#2a2a2a" stroke-width="0.5" fill="none"/>
<rect x="47.30" y="380.80" width="2.2" height="2.2" fill="#000"/>
<path d="M54.30,381.10V386.30M52.90,381.10h2.8M52.90,386.30h2.8" stroke="#2a2a2a" stroke-width="0.5" fill="none"/>
<rect x="53.20" y="382.60" width="2.2" height="2.2" fill="#000"/>
<path d="M60.20,381.40V386.60M58.80,381.40h2.8M58.80,386.60h2.8" stroke="#2a2a2a" stroke-width="0.5" fill="none"/>
<rect x="59.10" y="382.90" width="2.2" height="2.2" fill="#000"/>
<path d="M66.10,381.90V387.10M64.70,381.90h2.8M64.70,387.10h2.8" stroke="#2a2a2a" stroke-width="0.5" fill="none"/>
<rect x="65.00" y="383.40" width="2.2" height="2.2" fill="#000"/>
<path d="M72.00,387.20V392.40M70.60,387.20h2.8M70.60,392.40h2.8" stroke="#2a2a2a" stroke-width="0.5" fill="none"/>
<rect x="70.90" y="388.70" width="2.2" height="2.2" fill="#000"/>
<path d="M77.90,389.40V394.60M76.50,389.40h2.8M76.50,394.60h2.8" stroke="#2a2a2a" stroke-width="0.5" fill="none"/>
<rect x="76.80" y="390.90" width="2.2" height="2.2" fill="#000"/>
<path d="M83.80,389.40V394.60M82.40,389.40h2.8M82.40,394.60h2.8" stroke="#2a2a2a" stroke-width="0.5" fill="none"/>
<rect x="82.70" y="390.90" width="2.2" height="2.2" fill="#000"/>
<path d="M89.70,390.50V395.70M88.30,390.50h2.8M88.30,395.70h2.8" stroke="#2a2a2a" stroke-width="0.5" fill="none"/>
<rect x="88.60" y="392.00" width="2.2" height="2.2" fill="#000"/>
<path d="M95.60,393.90V399.10M94.20,393.90h2.8M94.20,399.10h2.8" stroke="#2a2a2a" stroke-width="0.5" fill="none"/>
<rect x="94.50" y="395.40" width="2.2" height="2.2" fill="#000"/>
<path d="M101.50,393.10V398.30M100.10,393.10h2.8M100.10,398.30h2.8" stroke="#2a2a2a" stroke-width="0.5" fill="none"/>
<rect x="100.40" y="394.60" width="2.2" height="2.2" fill="#000"/>
<line x1="34.5" y1="380.4" x2="51.5" y2="380.4" stroke="#ff0000" stroke-width="1.25"/>
<line x1="51.5" y1="380.8" x2="104.5" y2="397.8" stroke="#0000ff" stroke-width="1.25"/>
</g>
<clipPath id="cb1"><rect x="34.5" y="402.6" width="70.0" height="27.799999999999955"/></clipPath>
<g clip-path="url(#cb1)">
<path d="M36.60,406.90V412.10M35.20,406.90h2.8M35.20,412.10h2.8" stroke="#2a2a2a" stroke-width="0.5" fill="none"/>
<rect x="35.50" y="408.40" width="2.2" height="2.2" fill="#000"/>
<path d="M42.50,405.70V410.90M41.10,405.70h2.8M41.10,410.90h2.8" stroke="#2a2a2a" stroke-width="0.5" fill="none"/>
<rect x="41.40" y="407.20" width="2.2" height="2.2" fill="#000"/>
<path d="M48.40,410.00V415.20M47.00,410.00h2.8M47.00,415.20h2.8" stroke="#2a2a2a" stroke-width="0.5" fill="none"/>
<rect x="47.30" y="411.50" width="2.2" height="2.2" fill="#000"/>
<path d="M54.30,408.00V413.20M52.90,408.00h2.8M52.90,413.20h2.8" stroke="#2a2a2a" stroke-width="0.5" fill="none"/>
<rect x="53.20" y="409.50" width="2.2" height="2.2" fill="#000"/>
<path d="M60.20,409.40V414.60M58.80,409.40h2.8M58.80,414.60h2.8" stroke="#2a2a2a" stroke-width="0.5" fill="none"/>
<rect x="59.10" y="410.90" width="2.2" height="2.2" fill="#000"/>
<path d="M66.10,411.70V416.90M64.70,411.70h2.8M64.70,416.90h2.8" stroke="#2a2a2a" stroke-width="0.5" fill="none"/>
<rect x="65.00" y="413.20" width="2.2" height="2.2" fill="#000"/>
<path d="M72.00,414.40V419.60M70.60,414.40h2.8M70.60,419.60h2.8" stroke="#2a2a2a" stroke-width="0.5" fill="none"/>
<rect x="70.90" y="415.90" width="2.2" height="2.2" fill="#000"/>
<path d="M77.90,414.00V419.20M76.50,414.00h2.8M76.50,419.20h2.8" stroke="#2a2a2a" stroke-width="0.5" fill="none"/>
<rect x="76.80" y="415.50" width="2.2" height="2.2" fill="#000"/>
<path d="M83.80,415.80V421.00M82.40,415.80h2.8M82.40,421.00h2.8" stroke="#2a2a2a" stroke-width="0.5" fill="none"/>
<rect x="82.70" y="417.30" width="2.2" height="2.2" fill="#000"/>
<path d="M89.70,417.70V422.90M88.30,417.70h2.8M88.30,422.90h2.8" stroke="#2a2a2a" stroke-width="0.5" fill="none"/>
<rect x="88.60" y="419.20" width="2.2" height="2.2" fill="#000"/>
<path d="M95.60,417.30V422.50M94.20,417.30h2.8M94.20,422.50h2.8" stroke="#2a2a2a" stroke-width="0.5" fill="none"/>
<rect x="94.50" y="418.80" width="2.2" height="2.2" fill="#000"/>
<path d="M101.50,415.80V421.00M100.10,415.80h2.8M100.10,421.00h2.8" stroke="#2a2a2a" stroke-width="0.5" fill="none"/>
<rect x="100.40" y="417.30" width="2.2" height="2.2" fill="#000"/>
<line x1="34.5" y1="409.3" x2="51.5" y2="409.3" stroke="#ff0000" stroke-width="1.25"/>
<line x1="51.5" y1="409.6" x2="104.5" y2="422.0" stroke="#0000ff" stroke-width="1.25"/>
</g>
<clipPath id="cb2"><rect x="34.5" y="430.4" width="70.0" height="26.5"/></clipPath>
<g clip-path="url(#cb2)">
<path d="M36.60,431.80V437.00M35.20,431.80h2.8M35.20,437.00h2.8" stroke="#2a2a2a" stroke-width="0.5" fill="none"/>
<rect x="35.50" y="433.30" width="2.2" height="2.2" fill="#000"/>
<path d="M42.50,431.80V437.00M41.10,431.80h2.8M41.10,437.00h2.8" stroke="#2a2a2a" stroke-width="0.5" fill="none"/>
<rect x="41.40" y="433.30" width="2.2" height="2.2" fill="#000"/>
<path d="M48.40,433.20V438.40M47.00,433.20h2.8M47.00,438.40h2.8" stroke="#2a2a2a" stroke-width="0.5" fill="none"/>
<rect x="47.30" y="434.70" width="2.2" height="2.2" fill="#000"/>
<path d="M54.30,439.70V444.90M52.90,439.70h2.8M52.90,444.90h2.8" stroke="#2a2a2a" stroke-width="0.5" fill="none"/>
<rect x="53.20" y="441.20" width="2.2" height="2.2" fill="#000"/>
<path d="M60.20,436.90V442.10M58.80,436.90h2.8M58.80,442.10h2.8" stroke="#2a2a2a" stroke-width="0.5" fill="none"/>
<rect x="59.10" y="438.40" width="2.2" height="2.2" fill="#000"/>
<path d="M66.10,440.90V446.10M64.70,440.90h2.8M64.70,446.10h2.8" stroke="#2a2a2a" stroke-width="0.5" fill="none"/>
<rect x="65.00" y="442.40" width="2.2" height="2.2" fill="#000"/>
<path d="M72.00,447.30V452.50M70.60,447.30h2.8M70.60,452.50h2.8" stroke="#2a2a2a" stroke-width="0.5" fill="none"/>
<rect x="70.90" y="448.80" width="2.2" height="2.2" fill="#000"/>
<path d="M77.90,448.60V453.80M76.50,448.60h2.8M76.50,453.80h2.8" stroke="#2a2a2a" stroke-width="0.5" fill="none"/>
<rect x="76.80" y="450.10" width="2.2" height="2.2" fill="#000"/>
<path d="M83.80,449.60V454.80M82.40,449.60h2.8M82.40,454.80h2.8" stroke="#2a2a2a" stroke-width="0.5" fill="none"/>
<rect x="82.70" y="451.10" width="2.2" height="2.2" fill="#000"/>
<path d="M89.70,449.60V454.80M88.30,449.60h2.8M88.30,454.80h2.8" stroke="#2a2a2a" stroke-width="0.5" fill="none"/>
<rect x="88.60" y="451.10" width="2.2" height="2.2" fill="#000"/>
<path d="M95.60,448.40V453.60M94.20,448.40h2.8M94.20,453.60h2.8" stroke="#2a2a2a" stroke-width="0.5" fill="none"/>
<rect x="94.50" y="449.90" width="2.2" height="2.2" fill="#000"/>
<path d="M101.50,449.60V454.80M100.10,449.60h2.8M100.10,454.80h2.8" stroke="#2a2a2a" stroke-width="0.5" fill="none"/>
<rect x="100.40" y="451.10" width="2.2" height="2.2" fill="#000"/>
<line x1="34.5" y1="435.4" x2="52.0" y2="435.4" stroke="#ff0000" stroke-width="1.25"/>
<line x1="52.0" y1="438.6" x2="104.5" y2="456.5" stroke="#0000ff" stroke-width="1.25"/>
</g>
<clipPath id="cb3"><rect x="34.5" y="456.9" width="70.0" height="26.30000000000001"/></clipPath>
<g clip-path="url(#cb3)">
<path d="M36.60,460.30V465.50M35.20,460.30h2.8M35.20,465.50h2.8" stroke="#2a2a2a" stroke-width="0.5" fill="none"/>
<rect x="35.50" y="461.80" width="2.2" height="2.2" fill="#000"/>
<path d="M42.50,458.50V463.70M41.10,458.50h2.8M41.10,463.70h2.8" stroke="#2a2a2a" stroke-width="0.5" fill="none"/>
<rect x="41.40" y="460.00" width="2.2" height="2.2" fill="#000"/>
<path d="M48.40,463.60V468.80M47.00,463.60h2.8M47.00,468.80h2.8" stroke="#2a2a2a" stroke-width="0.5" fill="none"/>
<rect x="47.30" y="465.10" width="2.2" height="2.2" fill="#000"/>
<path d="M54.30,464.60V469.80M52.90,464.60h2.8M52.90,469.80h2.8" stroke="#2a2a2a" stroke-width="0.5" fill="none"/>
<rect x="53.20" y="466.10" width="2.2" height="2.2" fill="#000"/>
<path d="M60.20,464.30V469.50M58.80,464.30h2.8M58.80,469.50h2.8" stroke="#2a2a2a" stroke-width="0.5" fill="none"/>
<rect x="59.10" y="465.80" width="2.2" height="2.2" fill="#000"/>
<path d="M66.10,467.90V473.10M64.70,467.90h2.8M64.70,473.10h2.8" stroke="#2a2a2a" stroke-width="0.5" fill="none"/>
<rect x="65.00" y="469.40" width="2.2" height="2.2" fill="#000"/>
<path d="M72.00,472.70V477.90M70.60,472.70h2.8M70.60,477.90h2.8" stroke="#2a2a2a" stroke-width="0.5" fill="none"/>
<rect x="70.90" y="474.20" width="2.2" height="2.2" fill="#000"/>
<path d="M77.90,467.80V473.00M76.50,467.80h2.8M76.50,473.00h2.8" stroke="#2a2a2a" stroke-width="0.5" fill="none"/>
<rect x="76.80" y="469.30" width="2.2" height="2.2" fill="#000"/>
<path d="M83.80,474.20V479.40M82.40,474.20h2.8M82.40,479.40h2.8" stroke="#2a2a2a" stroke-width="0.5" fill="none"/>
<rect x="82.70" y="475.70" width="2.2" height="2.2" fill="#000"/>
<path d="M89.70,475.40V480.60M88.30,475.40h2.8M88.30,480.60h2.8" stroke="#2a2a2a" stroke-width="0.5" fill="none"/>
<rect x="88.60" y="476.90" width="2.2" height="2.2" fill="#000"/>
<path d="M95.60,476.60V481.80M94.20,476.60h2.8M94.20,481.80h2.8" stroke="#2a2a2a" stroke-width="0.5" fill="none"/>
<rect x="94.50" y="478.10" width="2.2" height="2.2" fill="#000"/>
<path d="M101.50,477.00V482.20M100.10,477.00h2.8M100.10,482.20h2.8" stroke="#2a2a2a" stroke-width="0.5" fill="none"/>
<rect x="100.40" y="478.50" width="2.2" height="2.2" fill="#000"/>
<line x1="34.5" y1="463.6" x2="52.0" y2="463.6" stroke="#ff0000" stroke-width="1.25"/>
<line x1="52.0" y1="465.9" x2="104.5" y2="481.2" stroke="#0000ff" stroke-width="1.25"/>
</g>
<clipPath id="cb4"><rect x="34.5" y="483.2" width="70.0" height="26.900000000000034"/></clipPath>
<g clip-path="url(#cb4)">
<path d="M36.60,486.40V491.60M35.20,486.40h2.8M35.20,491.60h2.8" stroke="#2a2a2a" stroke-width="0.5" fill="none"/>
<rect x="35.50" y="487.90" width="2.2" height="2.2" fill="#000"/>
<path d="M42.50,485.10V490.30M41.10,485.10h2.8M41.10,490.30h2.8" stroke="#2a2a2a" stroke-width="0.5" fill="none"/>
<rect x="41.40" y="486.60" width="2.2" height="2.2" fill="#000"/>
<path d="M48.40,488.00V493.20M47.00,488.00h2.8M47.00,493.20h2.8" stroke="#2a2a2a" stroke-width="0.5" fill="none"/>
<rect x="47.30" y="489.50" width="2.2" height="2.2" fill="#000"/>
<path d="M54.30,488.60V493.80M52.90,488.60h2.8M52.90,493.80h2.8" stroke="#2a2a2a" stroke-width="0.5" fill="none"/>
<rect x="53.20" y="490.10" width="2.2" height="2.2" fill="#000"/>
<path d="M60.20,490.00V495.20M58.80,490.00h2.8M58.80,495.20h2.8" stroke="#2a2a2a" stroke-width="0.5" fill="none"/>
<rect x="59.10" y="491.50" width="2.2" height="2.2" fill="#000"/>
<path d="M66.10,493.90V499.10M64.70,493.90h2.8M64.70,499.10h2.8" stroke="#2a2a2a" stroke-width="0.5" fill="none"/>
<rect x="65.00" y="495.40" width="2.2" height="2.2" fill="#000"/>
<path d="M72.00,496.70V501.90M70.60,496.70h2.8M70.60,501.90h2.8" stroke="#2a2a2a" stroke-width="0.5" fill="none"/>
<rect x="70.90" y="498.20" width="2.2" height="2.2" fill="#000"/>
<path d="M77.90,496.80V502.00M76.50,496.80h2.8M76.50,502.00h2.8" stroke="#2a2a2a" stroke-width="0.5" fill="none"/>
<rect x="76.80" y="498.30" width="2.2" height="2.2" fill="#000"/>
<path d="M83.80,497.00V502.20M82.40,497.00h2.8M82.40,502.20h2.8" stroke="#2a2a2a" stroke-width="0.5" fill="none"/>
<rect x="82.70" y="498.50" width="2.2" height="2.2" fill="#000"/>
<path d="M89.70,499.60V504.80M88.30,499.60h2.8M88.30,504.80h2.8" stroke="#2a2a2a" stroke-width="0.5" fill="none"/>
<rect x="88.60" y="501.10" width="2.2" height="2.2" fill="#000"/>
<path d="M95.60,497.30V502.50M94.20,497.30h2.8M94.20,502.50h2.8" stroke="#2a2a2a" stroke-width="0.5" fill="none"/>
<rect x="94.50" y="498.80" width="2.2" height="2.2" fill="#000"/>
<path d="M101.50,498.40V503.60M100.10,498.40h2.8M100.10,503.60h2.8" stroke="#2a2a2a" stroke-width="0.5" fill="none"/>
<rect x="100.40" y="499.90" width="2.2" height="2.2" fill="#000"/>
<line x1="34.5" y1="489.5" x2="50.4" y2="489.5" stroke="#ff0000" stroke-width="1.25"/>
<line x1="50.4" y1="489.8" x2="104.5" y2="504.0" stroke="#0000ff" stroke-width="1.25"/>
</g>
<rect x="34.5" y="376.0" width="70.0" height="134.10000000000002" fill="none" stroke="#333333" stroke-width="1.35"/>
<line x1="34.5" y1="402.6" x2="104.5" y2="402.6" stroke="#707070" stroke-width="1.3"/>
<line x1="34.5" y1="430.4" x2="104.5" y2="430.4" stroke="#707070" stroke-width="1.3"/>
<line x1="34.5" y1="456.9" x2="104.5" y2="456.9" stroke="#707070" stroke-width="1.3"/>
<line x1="34.5" y1="483.2" x2="104.5" y2="483.2" stroke="#707070" stroke-width="1.3"/>
<text x="31.4" y="381.95" font-size="5.5" text-anchor="end">349</text>
<line x1="32.2" y1="380.1" x2="34.5" y2="380.1" stroke="#333333" stroke-width="1.1"/>
<text x="31.4" y="389.95" font-size="5.5" text-anchor="end">348</text>
<line x1="32.2" y1="388.1" x2="34.5" y2="388.1" stroke="#333333" stroke-width="1.1"/>
<text x="31.4" y="397.85" font-size="5.5" text-anchor="end">347</text>
<line x1="32.2" y1="396.0" x2="34.5" y2="396.0" stroke="#333333" stroke-width="1.1"/>
<text x="31.4" y="405.35" font-size="5.5" text-anchor="end">334</text>
<line x1="32.2" y1="403.5" x2="34.5" y2="403.5" stroke="#333333" stroke-width="1.1"/>
<text x="31.4" y="414.05" font-size="5.5" text-anchor="end">323</text>
<line x1="32.2" y1="412.2" x2="34.5" y2="412.2" stroke="#333333" stroke-width="1.1"/>
<text x="31.4" y="423.25" font-size="5.5" text-anchor="end">322</text>
<line x1="32.2" y1="421.4" x2="34.5" y2="421.4" stroke="#333333" stroke-width="1.1"/>
<text x="31.4" y="435.65" font-size="5.5" text-anchor="end">305</text>
<line x1="32.2" y1="433.8" x2="34.5" y2="433.8" stroke="#333333" stroke-width="1.1"/>
<text x="31.4" y="443.65" font-size="5.5" text-anchor="end">304</text>
<line x1="32.2" y1="441.8" x2="34.5" y2="441.8" stroke="#333333" stroke-width="1.1"/>
<text x="31.4" y="451.85" font-size="5.5" text-anchor="end">303</text>
<line x1="32.2" y1="450.0" x2="34.5" y2="450.0" stroke="#333333" stroke-width="1.1"/>
<text x="31.4" y="458.45" font-size="5.5" text-anchor="end">214</text>
<line x1="32.2" y1="456.6" x2="34.5" y2="456.6" stroke="#333333" stroke-width="1.1"/>
<text x="31.4" y="468.05" font-size="5.5" text-anchor="end">213</text>
<line x1="32.2" y1="466.2" x2="34.5" y2="466.2" stroke="#333333" stroke-width="1.1"/>
<text x="31.4" y="477.05" font-size="5.5" text-anchor="end">212</text>
<line x1="32.2" y1="475.2" x2="34.5" y2="475.2" stroke="#333333" stroke-width="1.1"/>
<text x="31.4" y="485.15" font-size="5.5" text-anchor="end">136</text>
<line x1="32.2" y1="483.3" x2="34.5" y2="483.3" stroke="#333333" stroke-width="1.1"/>
<text x="31.4" y="498.95" font-size="5.5" text-anchor="end">135</text>
<line x1="32.2" y1="497.1" x2="34.5" y2="497.1" stroke="#333333" stroke-width="1.1"/>
<text x="31.4" y="511.85" font-size="5.5" text-anchor="end">134</text>
<line x1="32.2" y1="510.0" x2="34.5" y2="510.0" stroke="#333333" stroke-width="1.1"/>
<text x="42.50" y="518.8" font-size="5.5" text-anchor="middle">100</text>
<line x1="42.50" y1="510.1" x2="42.50" y2="511.90000000000003" stroke="#333333" stroke-width="0.9"/>
<text x="57.25" y="518.8" font-size="5.5" text-anchor="middle">150</text>
<line x1="57.25" y1="510.1" x2="57.25" y2="511.90000000000003" stroke="#333333" stroke-width="0.9"/>
<text x="72.00" y="518.8" font-size="5.5" text-anchor="middle">200</text>
<line x1="72.00" y1="510.1" x2="72.00" y2="511.90000000000003" stroke="#333333" stroke-width="0.9"/>
<text x="86.75" y="518.8" font-size="5.5" text-anchor="middle">250</text>
<line x1="86.75" y1="510.1" x2="86.75" y2="511.90000000000003" stroke="#333333" stroke-width="0.9"/>
<text x="101.50" y="518.8" font-size="5.5" text-anchor="middle">300</text>
<line x1="101.50" y1="510.1" x2="101.50" y2="511.90000000000003" stroke="#333333" stroke-width="0.9"/>
<text x="69.9" y="525.7" font-size="7.2" text-anchor="middle">T (K)</text>
<text x="69.4" y="381.3" font-size="5.8" text-anchor="middle">(b)</text>
<text style="stroke-width:0.08px" x="37" y="400.6" font-size="5.4"><tspan font-weight="normal" font-style="italic">χ</tspan>= −0.01077 cm<tspan dy="-2.7" font-size="4">-1</tspan><tspan dy="2.7">/K</tspan></text>
<text style="stroke-width:0.08px" x="37" y="426.4" font-size="5.4"><tspan font-weight="normal" font-style="italic">χ</tspan>= −0.00613 cm<tspan dy="-2.7" font-size="4">-1</tspan><tspan dy="2.7">/K</tspan></text>
<text style="stroke-width:0.08px" x="56.5" y="436.6" font-size="5.4"><tspan font-weight="normal" font-style="italic">χ</tspan>= −0.01239 cm<tspan dy="-2.7" font-size="4">-1</tspan><tspan dy="2.7">/K</tspan></text>
<text style="stroke-width:0.08px" x="55.8" y="463.8" font-size="5.4"><tspan font-weight="normal" font-style="italic">χ</tspan>= −0.00938 cm<tspan dy="-2.7" font-size="4">-1</tspan><tspan dy="2.7">/K</tspan></text>
<text style="stroke-width:0.08px" x="37" y="508.0" font-size="5.4"><tspan font-weight="normal" font-style="italic">χ</tspan>= −0.00523 cm<tspan dy="-2.7" font-size="4">-1</tspan><tspan dy="2.7">/K</tspan></text>
<text x="94.0" y="386.2" font-size="5.8">E</text><text x="97.9" y="382.9" font-size="5.2">3</text><text x="97.9" y="388.7" font-size="5.2">g</text>
<text x="95.3" y="410.6" font-size="5.8">E</text><text x="99.2" y="407.3" font-size="5.2">2</text><text x="99.2" y="413.1" font-size="5.2">g</text>
<text x="94.4" y="492.6" font-size="5.8">E</text><text x="98.30000000000001" y="489.3" font-size="5.2">1</text><text x="98.30000000000001" y="495.1" font-size="5.2">g</text>
<text x="38.2" y="449.8" font-size="6.4">A</text><text x="44.0" y="446.7" font-size="5.6">2</text><text x="42.6" y="452.90000000000003" font-size="5.8">1g</text>
<text x="38.2" y="477.6" font-size="6.4">A</text><text x="44.0" y="474.5" font-size="5.6">1</text><text x="42.6" y="480.70000000000005" font-size="5.8">1g</text>
<text transform="translate(19.8,434.5) rotate(-90)" font-size="7.35" text-anchor="middle">Raman shift (cm<tspan dy="-3" font-size="5.2">-1</tspan><tspan dy="3">)</tspan></text>
<clipPath id="cc0"><rect x="130.5" y="376.1" width="69.4" height="26.899999999999977"/></clipPath>
<g clip-path="url(#cc0)">
<path d="M132.00,392.30V397.50M130.60,392.30h2.8M130.60,397.50h2.8" stroke="#2a2a2a" stroke-width="0.5" fill="none"/>
<rect x="130.90" y="393.80" width="2.2" height="2.2" fill="#000"/>
<path d="M137.90,398.90V404.10M136.50,398.90h2.8M136.50,404.10h2.8" stroke="#2a2a2a" stroke-width="0.5" fill="none"/>
<rect x="136.80" y="400.40" width="2.2" height="2.2" fill="#000"/>
<path d="M143.80,394.10V399.30M142.40,394.10h2.8M142.40,399.30h2.8" stroke="#2a2a2a" stroke-width="0.5" fill="none"/>
<rect x="142.70" y="395.60" width="2.2" height="2.2" fill="#000"/>
<path d="M149.70,394.60V399.80M148.30,394.60h2.8M148.30,399.80h2.8" stroke="#2a2a2a" stroke-width="0.5" fill="none"/>
<rect x="148.60" y="396.10" width="2.2" height="2.2" fill="#000"/>
<path d="M155.60,395.10V400.30M154.20,395.10h2.8M154.20,400.30h2.8" stroke="#2a2a2a" stroke-width="0.5" fill="none"/>
<rect x="154.50" y="396.60" width="2.2" height="2.2" fill="#000"/>
<path d="M161.50,386.70V391.90M160.10,386.70h2.8M160.10,391.90h2.8" stroke="#2a2a2a" stroke-width="0.5" fill="none"/>
<rect x="160.40" y="388.20" width="2.2" height="2.2" fill="#000"/>
<path d="M167.40,387.40V392.60M166.00,387.40h2.8M166.00,392.60h2.8" stroke="#2a2a2a" stroke-width="0.5" fill="none"/>
<rect x="166.30" y="388.90" width="2.2" height="2.2" fill="#000"/>
<path d="M173.30,392.00V397.20M171.90,392.00h2.8M171.90,397.20h2.8" stroke="#2a2a2a" stroke-width="0.5" fill="none"/>
<rect x="172.20" y="393.50" width="2.2" height="2.2" fill="#000"/>
<path d="M179.20,387.40V392.60M177.80,387.40h2.8M177.80,392.60h2.8" stroke="#2a2a2a" stroke-width="0.5" fill="none"/>
<rect x="178.10" y="388.90" width="2.2" height="2.2" fill="#000"/>
<path d="M185.10,382.30V387.50M183.70,382.30h2.8M183.70,387.50h2.8" stroke="#2a2a2a" stroke-width="0.5" fill="none"/>
<rect x="184.00" y="383.80" width="2.2" height="2.2" fill="#000"/>
<path d="M191.00,381.90V387.10M189.60,381.90h2.8M189.60,387.10h2.8" stroke="#2a2a2a" stroke-width="0.5" fill="none"/>
<rect x="189.90" y="383.40" width="2.2" height="2.2" fill="#000"/>
<path d="M196.90,379.00V384.20M195.50,379.00h2.8M195.50,384.20h2.8" stroke="#2a2a2a" stroke-width="0.5" fill="none"/>
<rect x="195.80" y="380.50" width="2.2" height="2.2" fill="#000"/>
<path d="M130.5,397.5 L154.2,397.0 L199.9,378.7" fill="none" stroke="#ff0000" stroke-width="1.25" stroke-linejoin="round"/>
</g>
<clipPath id="cc1"><rect x="130.5" y="403.0" width="69.4" height="25.399999999999977"/></clipPath>
<g clip-path="url(#cc1)">
<path d="M132.00,421.20V426.40M130.60,421.20h2.8M130.60,426.40h2.8" stroke="#2a2a2a" stroke-width="0.5" fill="none"/>
<rect x="130.90" y="422.70" width="2.2" height="2.2" fill="#000"/>
<path d="M137.90,423.10V428.30M136.50,423.10h2.8M136.50,428.30h2.8" stroke="#2a2a2a" stroke-width="0.5" fill="none"/>
<rect x="136.80" y="424.60" width="2.2" height="2.2" fill="#000"/>
<path d="M143.80,423.10V428.30M142.40,423.10h2.8M142.40,428.30h2.8" stroke="#2a2a2a" stroke-width="0.5" fill="none"/>
<rect x="142.70" y="424.60" width="2.2" height="2.2" fill="#000"/>
<path d="M149.70,420.90V426.10M148.30,420.90h2.8M148.30,426.10h2.8" stroke="#2a2a2a" stroke-width="0.5" fill="none"/>
<rect x="148.60" y="422.40" width="2.2" height="2.2" fill="#000"/>
<path d="M155.60,414.80V420.00M154.20,414.80h2.8M154.20,420.00h2.8" stroke="#2a2a2a" stroke-width="0.5" fill="none"/>
<rect x="154.50" y="416.30" width="2.2" height="2.2" fill="#000"/>
<path d="M161.50,418.30V423.50M160.10,418.30h2.8M160.10,423.50h2.8" stroke="#2a2a2a" stroke-width="0.5" fill="none"/>
<rect x="160.40" y="419.80" width="2.2" height="2.2" fill="#000"/>
<path d="M167.40,415.10V420.30M166.00,415.10h2.8M166.00,420.30h2.8" stroke="#2a2a2a" stroke-width="0.5" fill="none"/>
<rect x="166.30" y="416.60" width="2.2" height="2.2" fill="#000"/>
<path d="M173.30,418.00V423.20M171.90,418.00h2.8M171.90,423.20h2.8" stroke="#2a2a2a" stroke-width="0.5" fill="none"/>
<rect x="172.20" y="419.50" width="2.2" height="2.2" fill="#000"/>
<path d="M179.20,417.30V422.50M177.80,417.30h2.8M177.80,422.50h2.8" stroke="#2a2a2a" stroke-width="0.5" fill="none"/>
<rect x="178.10" y="418.80" width="2.2" height="2.2" fill="#000"/>
<path d="M185.10,408.30V413.50M183.70,408.30h2.8M183.70,413.50h2.8" stroke="#2a2a2a" stroke-width="0.5" fill="none"/>
<rect x="184.00" y="409.80" width="2.2" height="2.2" fill="#000"/>
<path d="M191.00,414.00V419.20M189.60,414.00h2.8M189.60,419.20h2.8" stroke="#2a2a2a" stroke-width="0.5" fill="none"/>
<rect x="189.90" y="415.50" width="2.2" height="2.2" fill="#000"/>
<path d="M196.90,409.30V414.50M195.50,409.30h2.8M195.50,414.50h2.8" stroke="#2a2a2a" stroke-width="0.5" fill="none"/>
<rect x="195.80" y="410.80" width="2.2" height="2.2" fill="#000"/>
<path d="M130.5,426.4 L151.9,425.7 L199.9,412.9" fill="none" stroke="#ff0000" stroke-width="1.25" stroke-linejoin="round"/>
</g>
<clipPath id="cc2"><rect x="130.5" y="428.4" width="69.4" height="27.5"/></clipPath>
<g clip-path="url(#cc2)">
<path d="M132.00,451.50V456.30M130.60,451.50h2.8M130.60,456.30h2.8" stroke="#2a2a2a" stroke-width="0.5" fill="none"/>
<rect x="130.90" y="452.80" width="2.2" height="2.2" fill="#000"/>
<path d="M137.90,449.30V454.10M136.50,449.30h2.8M136.50,454.10h2.8" stroke="#2a2a2a" stroke-width="0.5" fill="none"/>
<rect x="136.80" y="450.60" width="2.2" height="2.2" fill="#000"/>
<path d="M143.80,447.50V452.30M142.40,447.50h2.8M142.40,452.30h2.8" stroke="#2a2a2a" stroke-width="0.5" fill="none"/>
<rect x="142.70" y="448.80" width="2.2" height="2.2" fill="#000"/>
<path d="M149.70,438.50V443.30M148.30,438.50h2.8M148.30,443.30h2.8" stroke="#2a2a2a" stroke-width="0.5" fill="none"/>
<rect x="148.60" y="439.80" width="2.2" height="2.2" fill="#000"/>
<path d="M155.60,442.10V446.90M154.20,442.10h2.8M154.20,446.90h2.8" stroke="#2a2a2a" stroke-width="0.5" fill="none"/>
<rect x="154.50" y="443.40" width="2.2" height="2.2" fill="#000"/>
<path d="M161.50,429.80V434.60M160.10,429.80h2.8M160.10,434.60h2.8" stroke="#2a2a2a" stroke-width="0.5" fill="none"/>
<rect x="160.40" y="431.10" width="2.2" height="2.2" fill="#000"/>
<path d="M167.40,432.80V437.60M166.00,432.80h2.8M166.00,437.60h2.8" stroke="#2a2a2a" stroke-width="0.5" fill="none"/>
<rect x="166.30" y="434.10" width="2.2" height="2.2" fill="#000"/>
<path d="M173.30,443.30V448.10M171.90,443.30h2.8M171.90,448.10h2.8" stroke="#2a2a2a" stroke-width="0.5" fill="none"/>
<rect x="172.20" y="444.60" width="2.2" height="2.2" fill="#000"/>
<path d="M179.20,445.70V450.50M177.80,445.70h2.8M177.80,450.50h2.8" stroke="#2a2a2a" stroke-width="0.5" fill="none"/>
<rect x="178.10" y="447.00" width="2.2" height="2.2" fill="#000"/>
<path d="M185.10,441.40V446.20M183.70,441.40h2.8M183.70,446.20h2.8" stroke="#2a2a2a" stroke-width="0.5" fill="none"/>
<rect x="184.00" y="442.70" width="2.2" height="2.2" fill="#000"/>
<path d="M191.00,442.10V446.90M189.60,442.10h2.8M189.60,446.90h2.8" stroke="#2a2a2a" stroke-width="0.5" fill="none"/>
<rect x="189.90" y="443.40" width="2.2" height="2.2" fill="#000"/>
<path d="M196.90,447.90V452.70M195.50,447.90h2.8M195.50,452.70h2.8" stroke="#2a2a2a" stroke-width="0.5" fill="none"/>
<rect x="195.80" y="449.20" width="2.2" height="2.2" fill="#000"/>
<path d="M130.5,456.5 L164.1,435.4 L199.9,450.7" fill="none" stroke="#ff0000" stroke-width="1.25" stroke-linejoin="round"/>
</g>
<clipPath id="cc3"><rect x="130.5" y="455.9" width="69.4" height="26.600000000000023"/></clipPath>
<g clip-path="url(#cc3)">
<path d="M132.00,473.70V478.90M130.60,473.70h2.8M130.60,478.90h2.8" stroke="#2a2a2a" stroke-width="0.5" fill="none"/>
<rect x="130.90" y="475.20" width="2.2" height="2.2" fill="#000"/>
<path d="M137.90,475.60V480.80M136.50,475.60h2.8M136.50,480.80h2.8" stroke="#2a2a2a" stroke-width="0.5" fill="none"/>
<rect x="136.80" y="477.10" width="2.2" height="2.2" fill="#000"/>
<path d="M143.80,472.00V477.20M142.40,472.00h2.8M142.40,477.20h2.8" stroke="#2a2a2a" stroke-width="0.5" fill="none"/>
<rect x="142.70" y="473.50" width="2.2" height="2.2" fill="#000"/>
<path d="M149.70,472.30V477.50M148.30,472.30h2.8M148.30,477.50h2.8" stroke="#2a2a2a" stroke-width="0.5" fill="none"/>
<rect x="148.60" y="473.80" width="2.2" height="2.2" fill="#000"/>
<path d="M155.60,472.70V477.90M154.20,472.70h2.8M154.20,477.90h2.8" stroke="#2a2a2a" stroke-width="0.5" fill="none"/>
<rect x="154.50" y="474.20" width="2.2" height="2.2" fill="#000"/>
<path d="M161.50,465.20V470.40M160.10,465.20h2.8M160.10,470.40h2.8" stroke="#2a2a2a" stroke-width="0.5" fill="none"/>
<rect x="160.40" y="466.70" width="2.2" height="2.2" fill="#000"/>
<path d="M167.40,468.40V473.60M166.00,468.40h2.8M166.00,473.60h2.8" stroke="#2a2a2a" stroke-width="0.5" fill="none"/>
<rect x="166.30" y="469.90" width="2.2" height="2.2" fill="#000"/>
<path d="M173.30,460.30V465.50M171.90,460.30h2.8M171.90,465.50h2.8" stroke="#2a2a2a" stroke-width="0.5" fill="none"/>
<rect x="172.20" y="461.80" width="2.2" height="2.2" fill="#000"/>
<path d="M179.20,467.70V472.90M177.80,467.70h2.8M177.80,472.90h2.8" stroke="#2a2a2a" stroke-width="0.5" fill="none"/>
<rect x="178.10" y="469.20" width="2.2" height="2.2" fill="#000"/>
<path d="M185.10,467.20V472.40M183.70,467.20h2.8M183.70,472.40h2.8" stroke="#2a2a2a" stroke-width="0.5" fill="none"/>
<rect x="184.00" y="468.70" width="2.2" height="2.2" fill="#000"/>
<path d="M191.00,466.20V471.40M189.60,466.20h2.8M189.60,471.40h2.8" stroke="#2a2a2a" stroke-width="0.5" fill="none"/>
<rect x="189.90" y="467.70" width="2.2" height="2.2" fill="#000"/>
<path d="M196.90,462.20V467.40M195.50,462.20h2.8M195.50,467.40h2.8" stroke="#2a2a2a" stroke-width="0.5" fill="none"/>
<rect x="195.80" y="463.70" width="2.2" height="2.2" fill="#000"/>
<path d="M130.5,476.3 L158.6,475.4 L199.9,464.0" fill="none" stroke="#ff0000" stroke-width="1.25" stroke-linejoin="round"/>
</g>
<clipPath id="cc4"><rect x="130.5" y="482.5" width="69.4" height="27.600000000000023"/></clipPath>
<g clip-path="url(#cc4)">
<path d="M132.00,491.70V500.90M130.60,491.70h2.8M130.60,500.90h2.8" stroke="#2a2a2a" stroke-width="0.5" fill="none"/>
<rect x="130.90" y="495.20" width="2.2" height="2.2" fill="#000"/>
<path d="M137.90,496.10V505.30M136.50,496.10h2.8M136.50,505.30h2.8" stroke="#2a2a2a" stroke-width="0.5" fill="none"/>
<rect x="136.80" y="499.60" width="2.2" height="2.2" fill="#000"/>
<path d="M143.80,491.10V500.30M142.40,491.10h2.8M142.40,500.30h2.8" stroke="#2a2a2a" stroke-width="0.5" fill="none"/>
<rect x="142.70" y="494.60" width="2.2" height="2.2" fill="#000"/>
<path d="M149.70,488.50V497.70M148.30,488.50h2.8M148.30,497.70h2.8" stroke="#2a2a2a" stroke-width="0.5" fill="none"/>
<rect x="148.60" y="492.00" width="2.2" height="2.2" fill="#000"/>
<path d="M155.60,497.90V507.10M154.20,497.90h2.8M154.20,507.10h2.8" stroke="#2a2a2a" stroke-width="0.5" fill="none"/>
<rect x="154.50" y="501.40" width="2.2" height="2.2" fill="#000"/>
<path d="M161.50,487.70V496.90M160.10,487.70h2.8M160.10,496.90h2.8" stroke="#2a2a2a" stroke-width="0.5" fill="none"/>
<rect x="160.40" y="491.20" width="2.2" height="2.2" fill="#000"/>
<path d="M167.40,493.10V502.30M166.00,493.10h2.8M166.00,502.30h2.8" stroke="#2a2a2a" stroke-width="0.5" fill="none"/>
<rect x="166.30" y="496.60" width="2.2" height="2.2" fill="#000"/>
<path d="M173.30,492.40V501.60M171.90,492.40h2.8M171.90,501.60h2.8" stroke="#2a2a2a" stroke-width="0.5" fill="none"/>
<rect x="172.20" y="495.90" width="2.2" height="2.2" fill="#000"/>
<path d="M179.20,494.70V503.90M177.80,494.70h2.8M177.80,503.90h2.8" stroke="#2a2a2a" stroke-width="0.5" fill="none"/>
<rect x="178.10" y="498.20" width="2.2" height="2.2" fill="#000"/>
<path d="M185.10,492.10V501.30M183.70,492.10h2.8M183.70,501.30h2.8" stroke="#2a2a2a" stroke-width="0.5" fill="none"/>
<rect x="184.00" y="495.60" width="2.2" height="2.2" fill="#000"/>
<path d="M191.00,489.90V499.10M189.60,489.90h2.8M189.60,499.10h2.8" stroke="#2a2a2a" stroke-width="0.5" fill="none"/>
<rect x="189.90" y="493.40" width="2.2" height="2.2" fill="#000"/>
<path d="M196.90,491.70V500.90M195.50,491.70h2.8M195.50,500.90h2.8" stroke="#2a2a2a" stroke-width="0.5" fill="none"/>
<rect x="195.80" y="495.20" width="2.2" height="2.2" fill="#000"/>
<path d="M130.5,498.4 L199.9,495.2" fill="none" stroke="#ff0000" stroke-width="1.25" stroke-linejoin="round"/>
</g>
<rect x="130.5" y="376.1" width="69.4" height="134.0" fill="none" stroke="#333333" stroke-width="1.35"/>
<line x1="130.5" y1="403.0" x2="199.9" y2="403.0" stroke="#707070" stroke-width="1.3"/>
<line x1="130.5" y1="428.4" x2="199.9" y2="428.4" stroke="#707070" stroke-width="1.3"/>
<line x1="130.5" y1="455.9" x2="199.9" y2="455.9" stroke="#707070" stroke-width="1.3"/>
<line x1="130.5" y1="482.5" x2="199.9" y2="482.5" stroke="#707070" stroke-width="1.3"/>
<text x="127.6" y="377.85" font-size="5.5" text-anchor="end">4.8</text>
<line x1="128.2" y1="376.0" x2="130.5" y2="376.0" stroke="#333333" stroke-width="1.1"/>
<text x="127.6" y="385.85" font-size="5.5" text-anchor="end">4.2</text>
<line x1="128.2" y1="384.0" x2="130.5" y2="384.0" stroke="#333333" stroke-width="1.1"/>
<text x="127.6" y="393.55" font-size="5.5" text-anchor="end">3.6</text>
<line x1="128.2" y1="391.7" x2="130.5" y2="391.7" stroke="#333333" stroke-width="1.1"/>
<text x="127.6" y="401.45" font-size="5.5" text-anchor="end">3.0</text>
<line x1="128.2" y1="399.6" x2="130.5" y2="399.6" stroke="#333333" stroke-width="1.1"/>
<text x="127.6" y="404.45" font-size="5.5" text-anchor="end">6.0</text>
<line x1="128.2" y1="402.6" x2="130.5" y2="402.6" stroke="#333333" stroke-width="1.1"/>
<text x="127.6" y="412.35" font-size="5.5" text-anchor="end">5.6</text>
<line x1="128.2" y1="410.5" x2="130.5" y2="410.5" stroke="#333333" stroke-width="1.1"/>
<text x="127.6" y="421.45" font-size="5.5" text-anchor="end">5.2</text>
<line x1="128.2" y1="419.6" x2="130.5" y2="419.6" stroke="#333333" stroke-width="1.1"/>
<text x="127.6" y="430.05" font-size="5.5" text-anchor="end">4.8</text>
<line x1="128.2" y1="428.2" x2="130.5" y2="428.2" stroke="#333333" stroke-width="1.1"/>
<text x="127.6" y="436.55" font-size="5.5" text-anchor="end">5.2</text>
<line x1="128.2" y1="434.7" x2="130.5" y2="434.7" stroke="#333333" stroke-width="1.1"/>
<text x="127.6" y="444.95" font-size="5.5" text-anchor="end">3.9</text>
<line x1="128.2" y1="443.1" x2="130.5" y2="443.1" stroke="#333333" stroke-width="1.1"/>
<text x="127.6" y="453.55" font-size="5.5" text-anchor="end">2.6</text>
<line x1="128.2" y1="451.7" x2="130.5" y2="451.7" stroke="#333333" stroke-width="1.1"/>
<text x="127.6" y="461.55" font-size="5.5" text-anchor="end">4.5</text>
<line x1="128.2" y1="459.7" x2="130.5" y2="459.7" stroke="#333333" stroke-width="1.1"/>
<text x="127.6" y="469.45" font-size="5.5" text-anchor="end">3.6</text>
<line x1="128.2" y1="467.6" x2="130.5" y2="467.6" stroke="#333333" stroke-width="1.1"/>
<text x="127.6" y="477.15" font-size="5.5" text-anchor="end">2.7</text>
<line x1="128.2" y1="475.3" x2="130.5" y2="475.3" stroke="#333333" stroke-width="1.1"/>
<text x="127.6" y="484.45" font-size="5.5" text-anchor="end">1.8</text>
<line x1="128.2" y1="482.6" x2="130.5" y2="482.6" stroke="#333333" stroke-width="1.1"/>
<text x="127.6" y="491.75" font-size="5.5" text-anchor="end">3.0</text>
<line x1="128.2" y1="489.9" x2="130.5" y2="489.9" stroke="#333333" stroke-width="1.1"/>
<text x="127.6" y="499.65" font-size="5.5" text-anchor="end">2.4</text>
<line x1="128.2" y1="497.8" x2="130.5" y2="497.8" stroke="#333333" stroke-width="1.1"/>
<text x="127.6" y="507.65" font-size="5.5" text-anchor="end">1.8</text>
<line x1="128.2" y1="505.8" x2="130.5" y2="505.8" stroke="#333333" stroke-width="1.1"/>
<text x="137.90" y="518.8" font-size="5.5" text-anchor="middle">100</text>
<line x1="137.90" y1="510.1" x2="137.90" y2="511.90000000000003" stroke="#333333" stroke-width="0.9"/>
<text x="152.65" y="518.8" font-size="5.5" text-anchor="middle">150</text>
<line x1="152.65" y1="510.1" x2="152.65" y2="511.90000000000003" stroke="#333333" stroke-width="0.9"/>
<text x="167.40" y="518.8" font-size="5.5" text-anchor="middle">200</text>
<line x1="167.40" y1="510.1" x2="167.40" y2="511.90000000000003" stroke="#333333" stroke-width="0.9"/>
<text x="182.15" y="518.8" font-size="5.5" text-anchor="middle">250</text>
<line x1="182.15" y1="510.1" x2="182.15" y2="511.90000000000003" stroke="#333333" stroke-width="0.9"/>
<text x="196.90" y="518.8" font-size="5.5" text-anchor="middle">300</text>
<line x1="196.90" y1="510.1" x2="196.90" y2="511.90000000000003" stroke="#333333" stroke-width="0.9"/>
<text x="165.2" y="525.7" font-size="7.2" text-anchor="middle">T (K)</text>
<text x="165.7" y="381.3" font-size="5.8" text-anchor="middle">(c)</text>
<text x="134.4" y="386.2" font-size="5.8">E</text><text x="138.3" y="382.9" font-size="5.2">3</text><text x="138.3" y="388.7" font-size="5.2">g</text>
<text x="133.6" y="410.6" font-size="5.8">E</text><text x="137.5" y="407.3" font-size="5.2">2</text><text x="137.5" y="413.1" font-size="5.2">g</text>
<text x="133.6" y="491.2" font-size="5.8">E</text><text x="137.5" y="487.9" font-size="5.2">1</text><text x="137.5" y="493.7" font-size="5.2">g</text>
<text x="132.8" y="440.2" font-size="6.4">A</text><text x="138.60000000000002" y="437.09999999999997" font-size="5.6">2</text><text x="137.20000000000002" y="443.3" font-size="5.8">1g</text>
<text x="132.8" y="466.0" font-size="6.4">A</text><text x="138.60000000000002" y="462.9" font-size="5.6">1</text><text x="137.20000000000002" y="469.1" font-size="5.8">1g</text>
<text transform="translate(116.9,458.2) rotate(-90)" font-size="7.2">FWHM <tspan font-size="5.4" font-weight="normal" class="ns">(</tspan><tspan font-size="6.6">cm</tspan><tspan dy="-3.4" font-size="5.6">-1</tspan><tspan dy="3.4" font-size="5.4" font-weight="normal" class="ns">)</tspan></text>
</svg></body></html>
